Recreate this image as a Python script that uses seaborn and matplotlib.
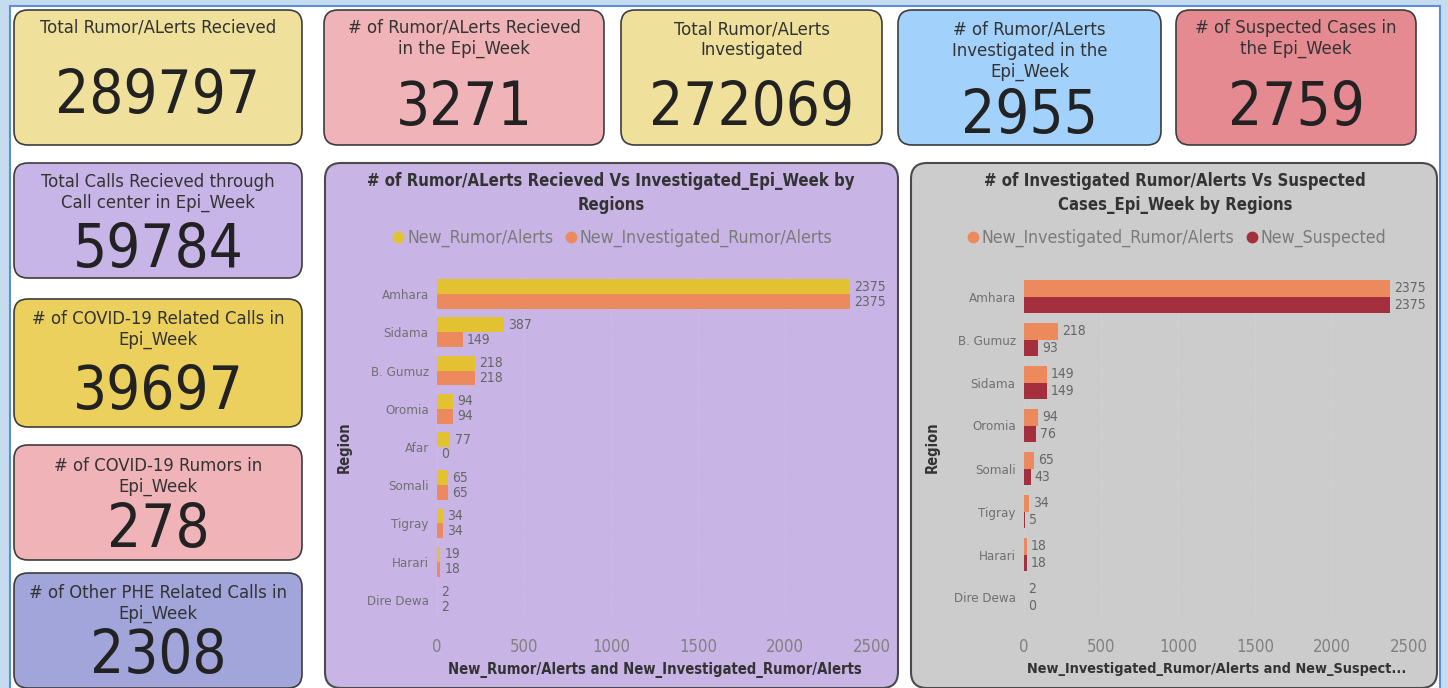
import matplotlib
matplotlib.use("Agg")
import matplotlib.pyplot as plt
from matplotlib.patches import FancyBboxPatch, Rectangle
from matplotlib.lines import Line2D
import pandas as pd
import seaborn as sns

sns.set_theme(style="white")
plt.rcParams["font.family"] = ["DejaVu Sans"]
plt.rcParams["font.stretch"] = "condensed"

# ---- data -------------------------------------------------------------
card_titles = [
    "Total Rumor/ALerts Recieved",
    "# of Rumor/ALerts Recieved\nin the Epi_Week",
    "Total Rumor/ALerts\nInvestigated",
    "# of Rumor/ALerts\nInvestigated in the\nEpi_Week",
    "# of Suspected Cases in\nthe Epi_Week",
    "Total Calls Recieved through\nCall center in Epi_Week",
    "# of COVID-19 Related Calls in\nEpi_Week",
    "# of COVID-19 Rumors in\nEpi_Week",
    "# of Other PHE Related Calls in\nEpi_Week",
]
card_values = [289797, 3271, 272069, 2955, 2759, 59784, 39697, 278, 2308]

regions_1 = ["Amhara", "Sidama", "B. Gumuz", "Oromia", "Afar", "Somali", "Tigray", "Harari", "Dire Dewa"]
new_rumor_1 = [2375, 387, 218, 94, 77, 65, 34, 19, 2]
new_invest_1 = [2375, 149, 218, 94, 0, 65, 34, 18, 2]

regions_2 = ["Amhara", "B. Gumuz", "Sidama", "Oromia", "Somali", "Tigray", "Harari", "Dire Dewa"]
new_invest_2 = [2375, 218, 149, 94, 65, 34, 18, 2]
new_suspected_2 = [2375, 93, 149, 76, 43, 5, 18, 0]

# ---- layout (pixel boxes: x0, y0, x1, y1, top-left origin) -------------
W, H = 1448, 688
card_boxes = [
    (14, 10, 302, 145), (324, 10, 604, 145), (621, 10, 882, 145),
    (898, 10, 1161, 145), (1176, 10, 1416, 145),
    (14, 163, 302, 278), (14, 299, 302, 427), (14, 445, 302, 560), (14, 573, 302, 688),
]
card_colors = ["#efe09b", "#f0b4b8", "#efe09b", "#a2d1fb", "#e68a92",
               "#c8b5e8", "#ebd05e", "#f0b4b8", "#a1a5d9"]
title_y = [27, 27, 28, 29, 27, 181, 318, 465, 592]
value_y = [97, 108, 108, 116, 108, 250, 393, 530, 657]

YELLOW, ORANGE, DARKRED = "#e3c232", "#ec8a5e", "#a3303c"

fig = plt.figure(figsize=(W / 100, H / 100), dpi=100)
fig.patch.set_facecolor("#c5dbf0")
bg = fig.add_axes([0, 0, 1, 1])
bg.set_xlim(0, W)
bg.set_ylim(H, 0)
bg.axis("off")
bg.add_patch(Rectangle((10, 6), 1430, 700, facecolor="white", edgecolor="#5b8ed6", lw=1.5))

for (x0, y0, x1, y1), col, title, val, ty, vy in zip(card_boxes, card_colors, card_titles,
                                                     card_values, title_y, value_y):
    bg.add_patch(FancyBboxPatch((x0, y0), x1 - x0, y1 - y0,
                                boxstyle="round,pad=0,rounding_size=14",
                                facecolor=col, edgecolor="#3d3d3d", lw=1.2))
    cx = (x0 + x1) / 2
    bg.text(cx, ty - 8, title, ha="center", va="top", fontsize=13.2, color="#333333",
            linespacing=1.2)
    bg.text(cx, vy, str(val), ha="center", va="center", fontsize=43, color="#222222")

# chart panels
panels = [((325, 163, 898, 688), "#c8b5e6"), ((911, 163, 1437, 688), "#cccccc")]
for (x0, y0, x1, y1), col in panels:
    bg.add_patch(FancyBboxPatch((x0, y0), x1 - x0, y1 - y0,
                                boxstyle="round,pad=0,rounding_size=16",
                                facecolor=col, edgecolor="#4a4a4a", lw=1.5))

bg.text(611, 193, "# of Rumor/ALerts Recieved Vs Investigated_Epi_Week by\nRegions",
        ha="center", va="center", fontsize=12, color="#333333", linespacing=1.42,
        fontweight="bold")
bg.text(1175, 193, "# of Investigated Rumor/Alerts Vs Suspected\nCases_Epi_Week by Regions",
        ha="center", va="center", fontsize=12, color="#333333", linespacing=1.42,
        fontweight="bold")


def draw_chart(rect, regions, s1, s2, names_, colors, xlabel, xlab_size, ylab_x, legend_xy):
    x0, y0, x1, y1 = rect
    ax = fig.add_axes([x0 / W, (H - y1) / H, (x1 - x0) / W, (y1 - y0) / H])
    ax.set_facecolor("none")
    df = pd.DataFrame({
        "Region": regions * 2,
        "Measure": [names_[0]] * len(regions) + [names_[1]] * len(regions),
        "Value": list(s1) + list(s2),
    })
    sns.barplot(data=df, y="Region", x="Value", hue="Measure", order=regions,
                hue_order=names_, palette=colors, orient="h", width=0.78,
                ax=ax, legend=False, saturation=1, linewidth=0)
    for cont in ax.containers:
        ax.bar_label(cont, padding=3, fontsize=10, color="#666666")
    ax.set_xlim(0, 2500)
    ax.set_xticks([0, 500, 1000, 1500, 2000, 2500])
    ax.tick_params(axis="x", length=0, pad=14, labelsize=12, labelcolor="#808080")
    ax.tick_params(axis="y", length=0, pad=6, labelsize=9.5, labelcolor="#707070")
    for s in ax.spines.values():
        s.set_visible(False)
    ax.grid(axis="x", color="#ffffff", alpha=0.2, lw=0.8, ls=":")
    ax.set_xlabel(xlabel, fontsize=xlab_size, color="#333333", fontweight="bold")
    ax.xaxis.set_label_coords(0.5, -0.125)
    ax.set_ylabel("Region", fontsize=10.5, color="#333333", fontweight="bold")
    ax.yaxis.set_label_coords(ylab_x, 0.5)
    handles = [Line2D([], [], marker="o", ls="", color=c, markersize=7.5) for c in colors]
    ax.legend(handles, names_, loc="center", bbox_to_anchor=legend_xy,
              bbox_transform=fig.transFigure, ncol=2, frameon=False,
              handletextpad=0.0, columnspacing=0.5, fontsize=12.7, labelcolor="#7a7a7a",
              handlelength=1.0)
    return ax


draw_chart((437, 275, 872, 619), regions_1, new_rumor_1, new_invest_1,
           ["New_Rumor/Alerts", "New_Investigated_Rumor/Alerts"], [YELLOW, ORANGE],
           "New_Rumor/Alerts and New_Investigated_Rumor/Alerts", 10.6, -0.195,
           (611 / W, (H - 238) / H))
draw_chart((1024, 275, 1409, 619), regions_2, new_invest_2, new_suspected_2,
           ["New_Investigated_Rumor/Alerts", "New_Suspected"], [ORANGE, DARKRED],
           "New_Investigated_Rumor/Alerts and New_Suspect...", 10.4, -0.218,
           (1175 / W, (H - 238) / H))

fig.savefig("out.png", dpi=100, facecolor=fig.get_facecolor())
